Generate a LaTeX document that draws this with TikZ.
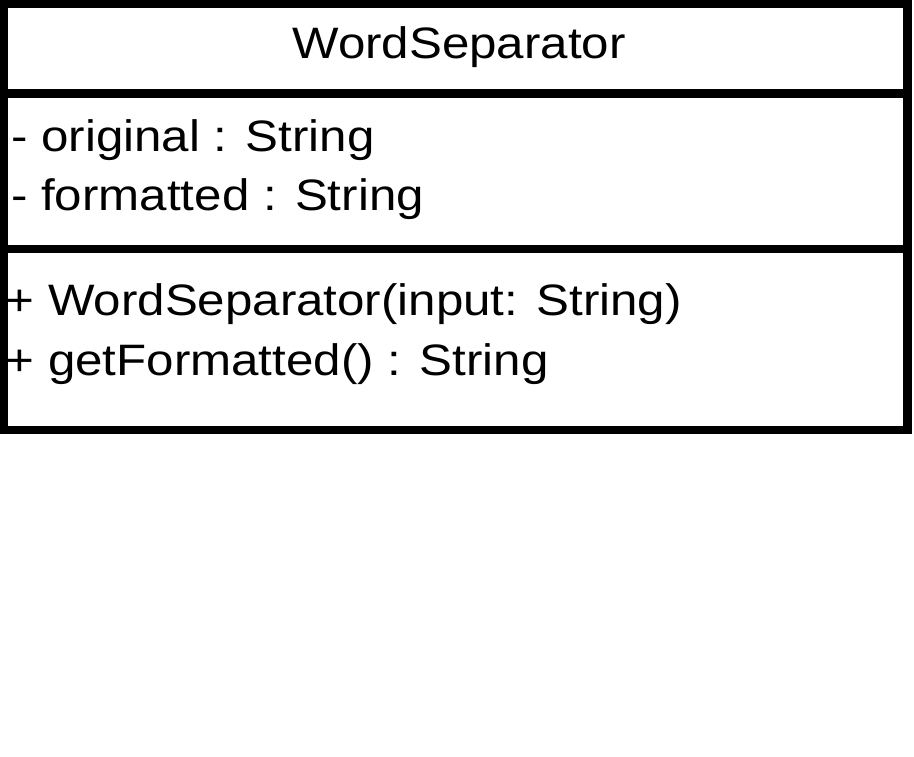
\documentclass[tikz,border=0pt]{standalone}
\usepackage{fontspec}
\setmainfont[FakeStretch=1.12]{Liberation Sans}
\begin{document}
\begin{tikzpicture}[x=1pt,y=-1pt,
  compartment/.style={draw=black,line width=8.5pt,fill=white,inner sep=0pt,
    outer sep=0pt,minimum width=903.5pt,anchor=north west},
  umltext/.style={inner sep=0pt,font=\fontsize{44}{52}\selectfont,text=black},
  member/.style={umltext,anchor=base west}]
  \useasboundingbox (0,0) rectangle (914,757);
  % class compartments: name, attributes, operations
  \node[compartment,minimum height=89.5pt] (namebox) at (4,4) {};
  \node[compartment,minimum height=155.5pt] (attrbox) at (4,93.5) {};
  \node[compartment,minimum height=181pt] (opbox) at (4,249) {};
  % class name
  \node[umltext,anchor=base] (cname) at (459,59) {WordSeparator};
  % attributes
  \node[member] (attr1) at (11,152) {- original : String};
  \node[member] (attr2) at (11,211) {- formatted : String};
  % operations
  \node[member] (op1) at (5.5,315) {+ WordSeparator(input: String)};
  \node[member] (op2) at (5.5,375) {+ getFormatted() : String};
\end{tikzpicture}
\end{document}
